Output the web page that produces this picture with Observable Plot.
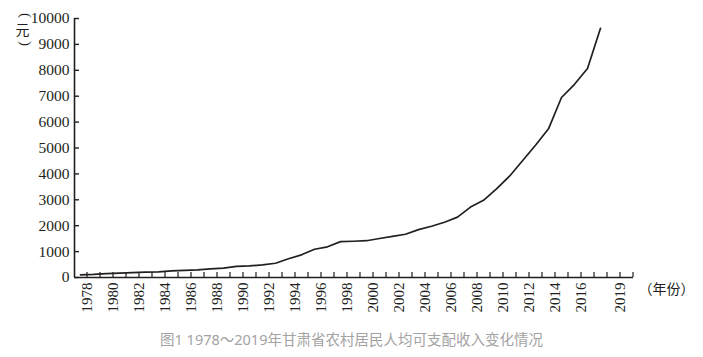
<!DOCTYPE html>
<html><head><meta charset="utf-8">
<script src="https://cdn.jsdelivr.net/npm/d3@7"></script>
<script src="https://cdn.jsdelivr.net/npm/@observablehq/plot@0.6"></script>
<style>
body{margin:0;background:#fff;}
#wrap{width:703px;height:357px;position:relative;overflow:hidden;}
#cap{position:absolute;left:0;top:326px;width:703px;text-align:center;font-family:"Noto Sans","Noto Sans CJK SC",sans-serif;font-size:14.5px;color:#a3a3a3;line-height:26px;}
</style></head><body>
<div id="wrap"><div id="chart"></div><div id="cap">图1 1978～2019年甘肃省农村居民人均可支配收入变化情况</div></div>
<script>
const years = [1978,1979,1980,1981,1982,1983,1984,1985,1986,1987,1988,1989,1990,1991,1992,1993,1994,1995,1996,1997,1998,1999,2000,2001,2002,2003,2004,2005,2006,2007,2008,2009,2010,2011,2012,2013,2014,2015,2016,2017,2018];
const income = [102,118,150,168,186,210,218,252,275,298,335,365,430,446,490,550,725,875,1090,1185,1385,1400,1420,1505,1590,1670,1850,1980,2135,2330,2720,2980,3425,3910,4505,5108,5740,6950,7460,8070,9620];
const xLabelYears = [1978,1980,1982,1984,1986,1988,1990,1992,1994,1996,1998,2000,2002,2004,2006,2008,2010,2012,2014,2016,2019];
const yTicks = [0,1000,2000,3000,4000,5000,6000,7000,8000,9000,10000];
const xUnit = "（年份）";
const yUnit = "元";

const data = years.map((y, i) => ({year: y, value: income[i]}));
const ink = "#231f20";
const cjk = "'Noto Sans CJK SC', sans-serif";
const serif = "'Liberation Serif', serif";

const chart = Plot.plot({
  width: 703, height: 326,
  marginLeft: 74, marginRight: 70, marginTop: 18, marginBottom: 49,
  x: {domain: [1978, 2020], range: [80, 626], label: null},
  y: {domain: [0, 10000], range: [277, 18], label: null},
  style: {fontFamily: serif, fontSize: "15px", color: ink, background: "#fff"},
  marks: [
    Plot.ruleY([0], {stroke: ink, strokeWidth: 1.6}),
    Plot.ruleX([1978], {dx: -6, stroke: ink, strokeWidth: 1.6}),
    Plot.axisY(yTicks, {tickSize: -5, tickPadding: 10, tickFormat: d => String(d), fontSize: 15.5, stroke: ink, fill: ink, strokeWidth: 1.4, label: null}),
    Plot.axisX(d3.range(1978, 2021), {tickSize: -5, tickFormat: () => "", dx: 6.5, stroke: ink, strokeWidth: 1.2, label: null}),
    Plot.text(xLabelYears, {x: d => d, text: d => String(d), frameAnchor: "bottom", rotate: -90, textAnchor: "end", lineAnchor: "middle", dy: 5, dx: 6.5, fontSize: 15, fill: ink}),
    Plot.line(data, {x: "year", y: "value", stroke: ink, strokeWidth: 1.7}),
    Plot.text([xUnit], {frameAnchor: "bottom-right", textAnchor: "start", dx: 5, dy: 16, fontSize: 14, fontFamily: cjk, fill: ink}),
    Plot.text(["("], {frameAnchor: "top-left", rotate: 90, textAnchor: "middle", lineAnchor: "middle", dx: -49, dy: -3, fontSize: 15, fontFamily: serif, fill: ink}),
    Plot.text([yUnit], {frameAnchor: "top-left", textAnchor: "middle", lineAnchor: "middle", dx: -52, dy: 12, fontSize: 14, fontFamily: cjk, fill: ink}),
    Plot.text([")"], {frameAnchor: "top-left", rotate: 90, textAnchor: "middle", lineAnchor: "middle", dx: -49, dy: 25, fontSize: 15, fontFamily: serif, fill: ink})
  ]
});
document.getElementById("chart").appendChild(chart);
</script>
</body></html>
